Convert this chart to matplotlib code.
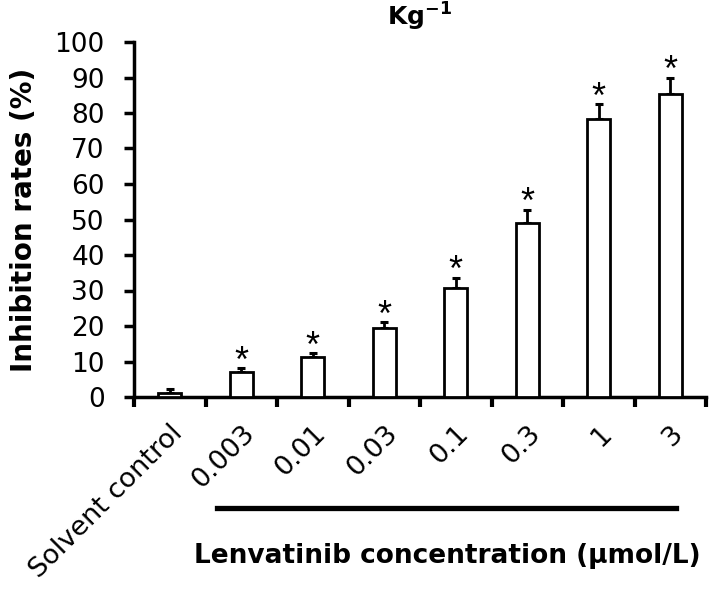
import numpy as np
import matplotlib
matplotlib.use("Agg")
import matplotlib.pyplot as plt

plt.rcParams['mathtext.fontset'] = 'custom'
plt.rcParams['mathtext.rm'] = 'DejaVu Sans:bold'
plt.rcParams['mathtext.bf'] = 'DejaVu Sans:bold'

# values
labels = ["Solvent control", "0.003", "0.01", "0.03", "0.1", "0.3", "1", "3"]
rates = [1.1, 7.1, 11.2, 19.3, 30.8, 49.0, 78.4, 85.3]
errs = [1.1, 1.0, 1.1, 1.8, 2.8, 3.8, 4.0, 4.7]
signif = [False, True, True, True, True, True, True, True]

fig = plt.figure(figsize=(7.09, 5.91), dpi=100)
ax = fig.add_axes([134/709, 1-397/591, 572/709, 355/591])

x = np.arange(len(labels))
ax.bar(x, rates, width=0.32, color='white', edgecolor='black', linewidth=2, zorder=3)
ax.errorbar(x, rates, yerr=[np.zeros(len(errs)), errs], fmt='none', ecolor='black',
            elinewidth=2, capsize=3, capthick=2.2, zorder=2)

for xi, r, e, s in zip(x, rates, errs, signif):
    if s:
        ax.annotate('*', (xi, r + e), xytext=(0, -2.5), textcoords='offset points',
                    ha='center', va='baseline', fontsize=26, family='Liberation Sans')

ax.set_xlim(-0.5, 7.5)
ax.set_ylim(0, 100)
ax.set_yticks(np.arange(0, 101, 10))
ax.set_xticks(np.arange(-0.5, 8, 1))
ax.set_xticklabels([])
ax.set_xticks(x, minor=True)
ax.set_xticklabels(labels, minor=True, rotation=45, ha='right', va='top',
                   rotation_mode='anchor', fontsize=19.5, family='DejaVu Sans')
ax.tick_params(axis='x', which='minor', length=0, pad=17)
ax.tick_params(axis='x', which='major', length=7, width=3, direction='out')
ax.tick_params(axis='y', length=7, width=2.5, direction='out', pad=14, labelsize=19)
for t in ax.get_yticklabels():
    t.set_family('DejaVu Sans')

for side in ['top', 'right']:
    ax.spines[side].set_visible(False)
for side in ['left', 'bottom']:
    ax.spines[side].set_linewidth(2.5)

ax.set_ylabel('Inhibition rates (%)', fontsize=20, fontweight='bold', family='DejaVu Sans',
              labelpad=12)
ax.set_title(r'Kg$^{\mathbf{-1}}$', fontsize=18, fontweight='bold', family='DejaVu Sans', pad=12)

# group line and label under the concentration ticks
fig.add_artist(plt.Line2D([217/709, 676/709], [1-508/591, 1-508/591], color='black',
                          linewidth=3.8, transform=fig.transFigure))
fig.text(447/709, 1-556/591, 'Lenvatinib concentration (\u03bcmol/L)', ha='center', va='center',
         fontsize=19, fontweight='bold', family='DejaVu Sans')

fig.savefig('out.png', dpi=100)
